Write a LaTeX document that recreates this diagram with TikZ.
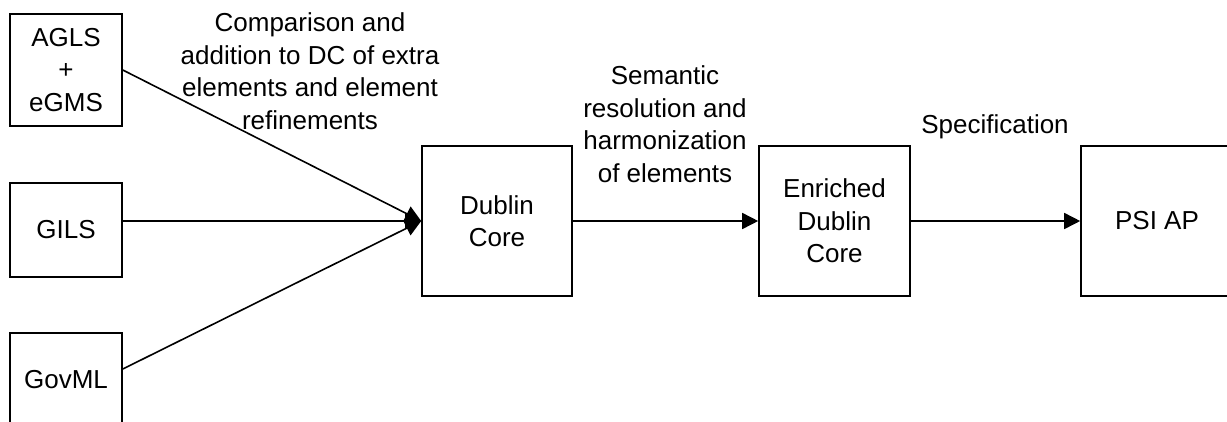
\documentclass[tikz,border=0pt]{standalone}
\usepackage{fontspec}
\setmainfont{Liberation Sans}
\usetikzlibrary{arrows.meta}
\begin{document}
\begin{tikzpicture}[x=1pt,y=-1pt,
  box/.style={draw, line width=1.6pt, align=center, inner sep=0pt,
    font=\fontsize{26}{32.5}\selectfont},
  lbl/.style={align=center, inner sep=0pt, font=\fontsize{26}{32.5}\selectfont},
  conn/.style={line width=1.6pt, -{Triangle[length=16pt,width=16pt]}}]
\useasboundingbox (0,0) rectangle (1227,421);
\clip (0,0) rectangle (1227,421);
\node[box, minimum width=112pt, minimum height=112pt] (agls) at (66,70) {AGLS\\+\\eGMS};
\node[box, minimum width=112pt, minimum height=94pt] (gils) at (66,230) {GILS};
\node[box, minimum width=112pt, minimum height=94pt] (govml) at (66,380) {GovML};
\node[box, minimum width=150pt, minimum height=150pt] (dc) at (497,221) {Dublin\\Core};
\node[box, minimum width=151pt, minimum height=150pt] (edc) at (834.5,221) {Enriched\\Dublin\\Core};
\node[box, minimum width=152pt, minimum height=150pt] (psi) at (1157,221) {PSI AP};
\draw[conn] (agls.east) -- (dc.west);
\draw[conn] (gils.east |- dc.west) -- (dc.west);
\draw[conn] ([yshift=11pt]govml.east) -- (dc.west);
\draw[conn] (dc.east) -- (edc.west);
\draw[conn] (edc.east) -- (psi.west);
\node[lbl] (l1) at (310,71) {Comparison and\\addition to DC of extra\\elements and element\\refinements};
\node[lbl] (l2) at (665,124) {Semantic\\resolution and\\harmonization\\of elements};
\node[lbl] (l3) at (995,127) {Specification};
\end{tikzpicture}
\end{document}
